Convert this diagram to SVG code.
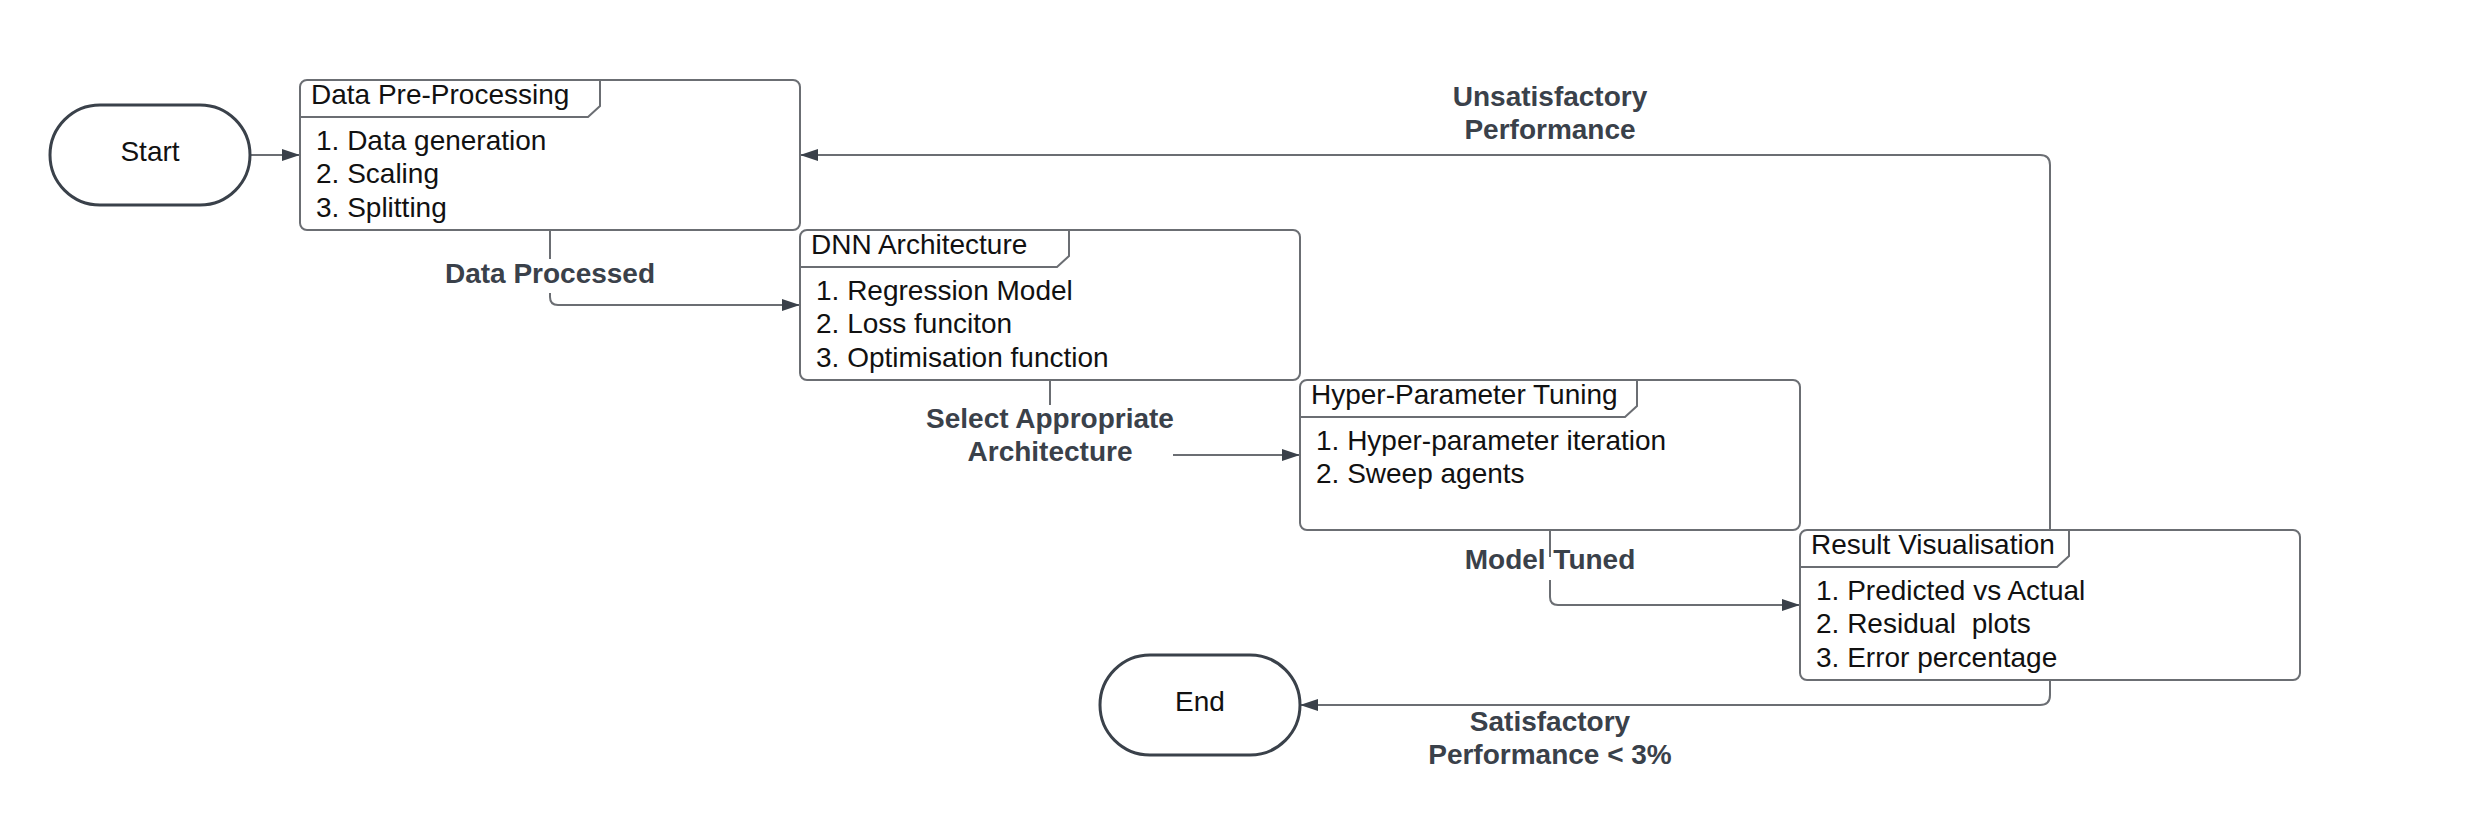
<svg xmlns="http://www.w3.org/2000/svg" width="2490" height="820" viewBox="0 0 2490 820">
<defs>
<style>
.box{fill:#fff;stroke:#6b6e73;stroke-width:2}
.term{fill:#fff;stroke:#3a414a;stroke-width:3}
.tab{fill:none;stroke:#6b6e73;stroke-width:2}
.t{font-family:"Liberation Sans",Arial,sans-serif;font-size:28px;fill:#111;white-space:pre}
.lbl{font-family:"Liberation Sans",Arial,sans-serif;font-size:28px;font-weight:bold;fill:#3a414a;text-anchor:middle}
.c{fill:none;stroke:#6b6e73;stroke-width:2}
</style>
<marker id="ah" viewBox="0 0 18 12" refX="17" refY="6" markerWidth="18" markerHeight="12" markerUnits="userSpaceOnUse" orient="auto">
<path d="M0,0 L18,6 L0,12 Z" fill="#3a414a"/>
</marker>
</defs>
<rect width="2490" height="820" fill="#fff"/>
<g id="connectors">
<path class="c" d="M250,155 H299" marker-end="url(#ah)"/>
<path class="c" d="M550,230 V259"/>
<path class="c" d="M550,293 V297 Q550,305 558,305 H799" marker-end="url(#ah)"/>
<path class="c" d="M1050,380 V405"/>
<path class="c" d="M1173,455 H1299" marker-end="url(#ah)"/>
<path class="c" d="M1550,530 V557"/>
<path class="c" d="M1550,580 V597 Q1550,605 1558,605 H1799" marker-end="url(#ah)"/>
<path class="c" d="M2050,530 V165 Q2050,155 2040,155 H801" marker-end="url(#ah)"/>
<path class="c" d="M2050,680 V695 Q2050,705 2040,705 H1301" marker-end="url(#ah)"/>
<text class="lbl" x="550" y="283">Data Processed</text>
<text class="lbl" x="1050" y="428">Select Appropriate</text>
<text class="lbl" x="1050" y="461">Architecture</text>
<text class="lbl" x="1550" y="569">Model Tuned</text>
<text class="lbl" x="1550" y="106">Unsatisfactory</text>
<text class="lbl" x="1550" y="139">Performance</text>
<text class="lbl" x="1550" y="731">Satisfactory</text>
<text class="lbl" x="1550" y="764">Performance &lt; 3%</text>
</g>
<g id="start">
<rect class="term" x="50" y="105" width="200" height="100" rx="50" ry="50"/>
<text class="t" x="150" y="161" text-anchor="middle">Start</text>
</g>
<g id="end">
<rect class="term" x="1100" y="655" width="200" height="100" rx="50" ry="50"/>
<text class="t" x="1200" y="711" text-anchor="middle">End</text>
</g>
<g id="preprocessing">
<rect class="box" x="300" y="80" width="500" height="150" rx="7"/>
<path class="tab" d="M600,80 V106 L588,117 H300"/>
<text class="t" x="311" y="104">Data Pre-Processing</text>
<text class="t" x="316" y="150">1. Data generation</text>
<text class="t" x="316" y="183">2. Scaling</text>
<text class="t" x="316" y="217">3. Splitting</text>
</g>
<g id="dnn">
<rect class="box" x="800" y="230" width="500" height="150" rx="7"/>
<path class="tab" d="M1069,230 V256 L1057,267 H800"/>
<text class="t" x="811" y="254">DNN Architecture</text>
<text class="t" x="816" y="300">1. Regression Model</text>
<text class="t" x="816" y="333">2. Loss funciton</text>
<text class="t" x="816" y="367">3. Optimisation function</text>
</g>
<g id="tuning">
<rect class="box" x="1300" y="380" width="500" height="150" rx="7"/>
<path class="tab" d="M1637,380 V406 L1625,417 H1300"/>
<text class="t" x="1311" y="404">Hyper-Parameter Tuning</text>
<text class="t" x="1316" y="450">1. Hyper-parameter iteration</text>
<text class="t" x="1316" y="483">2. Sweep agents</text>
</g>
<g id="results">
<rect class="box" x="1800" y="530" width="500" height="150" rx="7"/>
<path class="tab" d="M2069,530 V556 L2057,567 H1800"/>
<text class="t" x="1811" y="554">Result Visualisation</text>
<text class="t" x="1816" y="600">1. Predicted vs Actual</text>
<text class="t" x="1816" y="633" xml:space="preserve">2. Residual  plots</text>
<text class="t" x="1816" y="667">3. Error percentage</text>
</g>
</svg>
